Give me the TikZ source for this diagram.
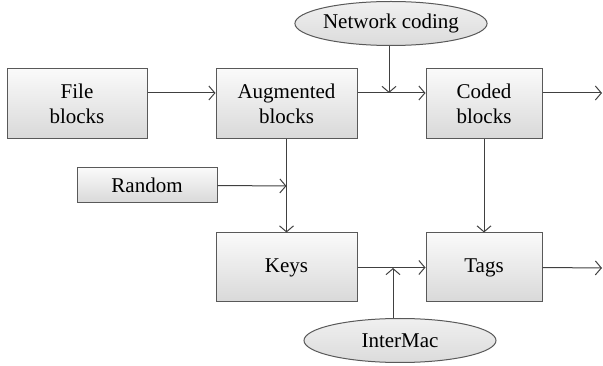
\documentclass[tikz,border=0pt]{standalone}
\usepackage{fontspec}
\setmainfont{Liberation Serif}
\usetikzlibrary{arrows.meta,shapes.geometric}
\begin{document}
\begin{tikzpicture}[x=1pt,y=-1pt,
  box/.style={draw=black!65, line width=1pt, top color=black!2, bottom color=black!15,
    minimum width=#1, inner sep=0pt, align=center, font=\fontsize{21}{25}\selectfont},
  oval/.style={ellipse, draw=black!65, line width=1pt, top color=black!6, bottom color=black!14,
    minimum width=192pt, minimum height=44pt, inner sep=0pt, font=\fontsize{21}{25}\selectfont},
  arr/.style={draw=black!75, line width=1pt, -{Straight Barb[length=6pt,width=14pt]}}]
\useasboundingbox (0,0) rectangle (603,366);
\node[box=140pt, minimum height=70pt] (file) at (77,104) {File\\blocks};
\node[box=141pt, minimum height=70pt] (aug) at (286.5,104) {Augmented\\blocks};
\node[box=116pt, minimum height=70pt] (coded) at (484,104) {Coded\\blocks};
\node[oval] (net) at (391,23.5) {Network coding};
\node[box=140pt, minimum height=35pt] (rand) at (147,185.5) {Random};
\node[box=141pt, minimum height=69pt] (keys) at (286.5,267.5) {Keys};
\node[box=116pt, minimum height=69pt] (tags) at (484,267.5) {Tags};
\node[oval] (inter) at (400,340.5) {InterMac};
\coordinate (nc) at (389,93);
\coordinate (rj) at (286.5,186);
\coordinate (im) at (393,268);
\coordinate (out1) at (602,93);
\coordinate (out2) at (602,268);
\draw[arr] ([yshift=11pt]file.east) -- ([yshift=11pt]aug.west);
\draw[arr] ([yshift=11pt]aug.east) -- ([yshift=11pt]coded.west);
\draw[arr] ([yshift=11pt]coded.east) -- (out1);
\draw[arr] (net.south -| nc) -- (nc);
\draw[arr] (aug.south) -- (keys.north);
\draw[arr] (rand.east) -- (rj);
\draw[arr] (coded.south) -- (tags.north);
\draw[arr] (keys.east) -- (tags.west);
\draw[arr] (tags.east) -- (out2);
\draw[arr] (inter.north -| im) -- (im);
\end{tikzpicture}
\end{document}
